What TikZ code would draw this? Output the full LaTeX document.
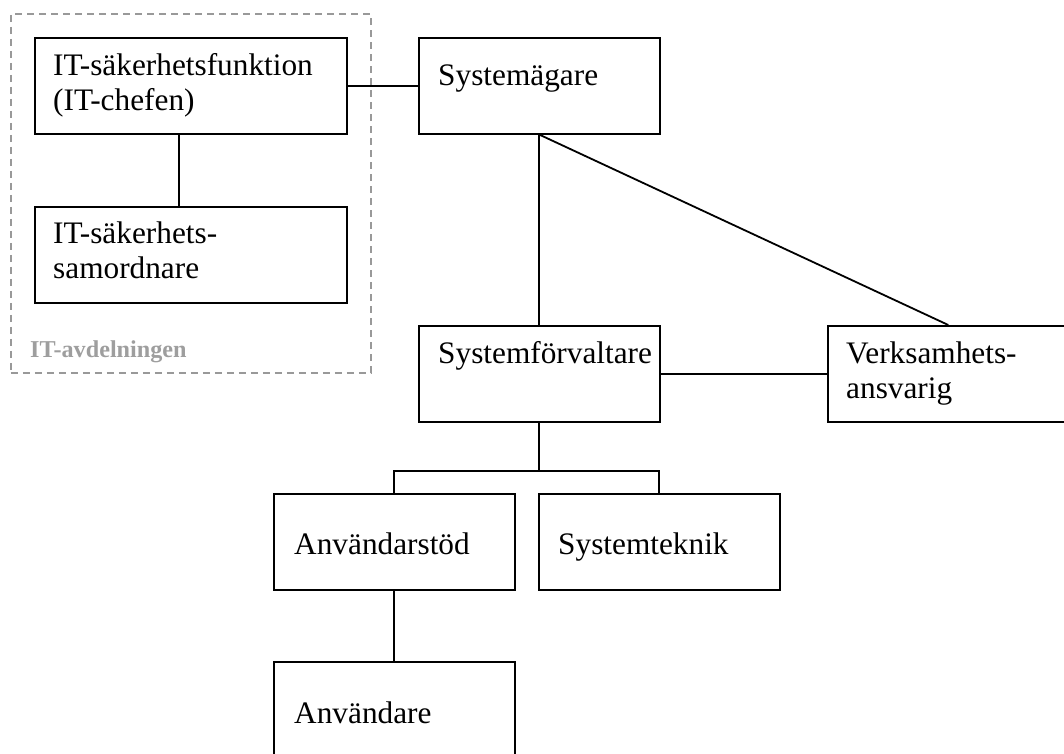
\documentclass[tikz,border=0pt]{standalone}
\usepackage{fontspec}
\setmainfont{Liberation Serif}
\usetikzlibrary{calc}
\tikzset{
  box/.style={draw, line width=1.6pt, inner sep=0pt, anchor=north west,
              minimum width=#1, minimum height=96},
  box/.default=241,
  txt/.style={inner sep=0pt, anchor=base west, font=\fontsize{31.3}{35}\selectfont},
  conn/.style={line width=1.8pt},
  group/.style={draw=black!40, line width=1.5pt, dash pattern=on 7pt off 5pt,
                inner sep=0pt, anchor=north west, minimum width=360, minimum height=359},
  grplabel/.style={inner sep=0pt, anchor=base west, text=black!38,
                   font=\fontsize{24.2}{27}\selectfont\bfseries}
}
\begin{document}
\begin{tikzpicture}[x=1pt,y=-1pt]
\useasboundingbox (0,0) rectangle (1064,753);
% group
\node[group] (G) at (10,13) {};
\node[grplabel] (GL) at ($(G.south west)+(20,-16)$) {IT-avdelningen};
% boxes
\node[box=312] (A) at (34,37) {};
\node[box=312] (B) at (34,206) {};
\node[box] (S) at (418,37) {};
\node[box] (F) at (418,325) {};
\node[box] (V) at (827,325) {};
\node[box] (U) at (273,493) {};
\node[box] (T) at (538,493) {};
\node[box] (N) at (273,661) {};
% texts
\node[txt] (At) at ($(A.north west)+(19,38)$) {\begin{tabular}[t]{@{}l@{}}IT-säkerhetsfunktion\\(IT-chefen)\end{tabular}};
\node[txt] (Bt) at ($(B.north west)+(19,37)$) {\begin{tabular}[t]{@{}l@{}}IT-säkerhets-\\samordnare\end{tabular}};
\node[txt] (St) at ($(S.north west)+(20,48)$) {Systemägare};
\node[txt] (Ft) at ($(F.north west)+(20,38)$) {Systemförvaltare};
\node[txt] (Vt) at ($(V.north west)+(19,38)$) {\begin{tabular}[t]{@{}l@{}}Verksamhets-\\ansvarig\end{tabular}};
\node[txt] (Ut) at ($(U.north west)+(21,61)$) {Användarstöd};
\node[txt] (Tt) at ($(T.north west)+(20,61)$) {Systemteknik};
\node[txt] (Nt) at ($(N.north west)+(21,62)$) {Användare};
% connectors
\draw[conn] (A.east) -- (A.east -| S.west);
\draw[conn] ([xshift=-12pt]A.south) -- ([xshift=-12pt]B.north);
\draw[conn] (S.south) -- (F.north);
\draw[conn] (S.south) -- (V.north);
\draw[conn] (F.east) -- (V.west);
\coordinate (J) at ($(F.south)+(0,48)$);
\draw[conn] (F.south) -- (J) -| (U.north);
\draw[conn] (J) -| (T.north);
\draw[conn] (U.south) -- (N.north);
\end{tikzpicture}
\end{document}
